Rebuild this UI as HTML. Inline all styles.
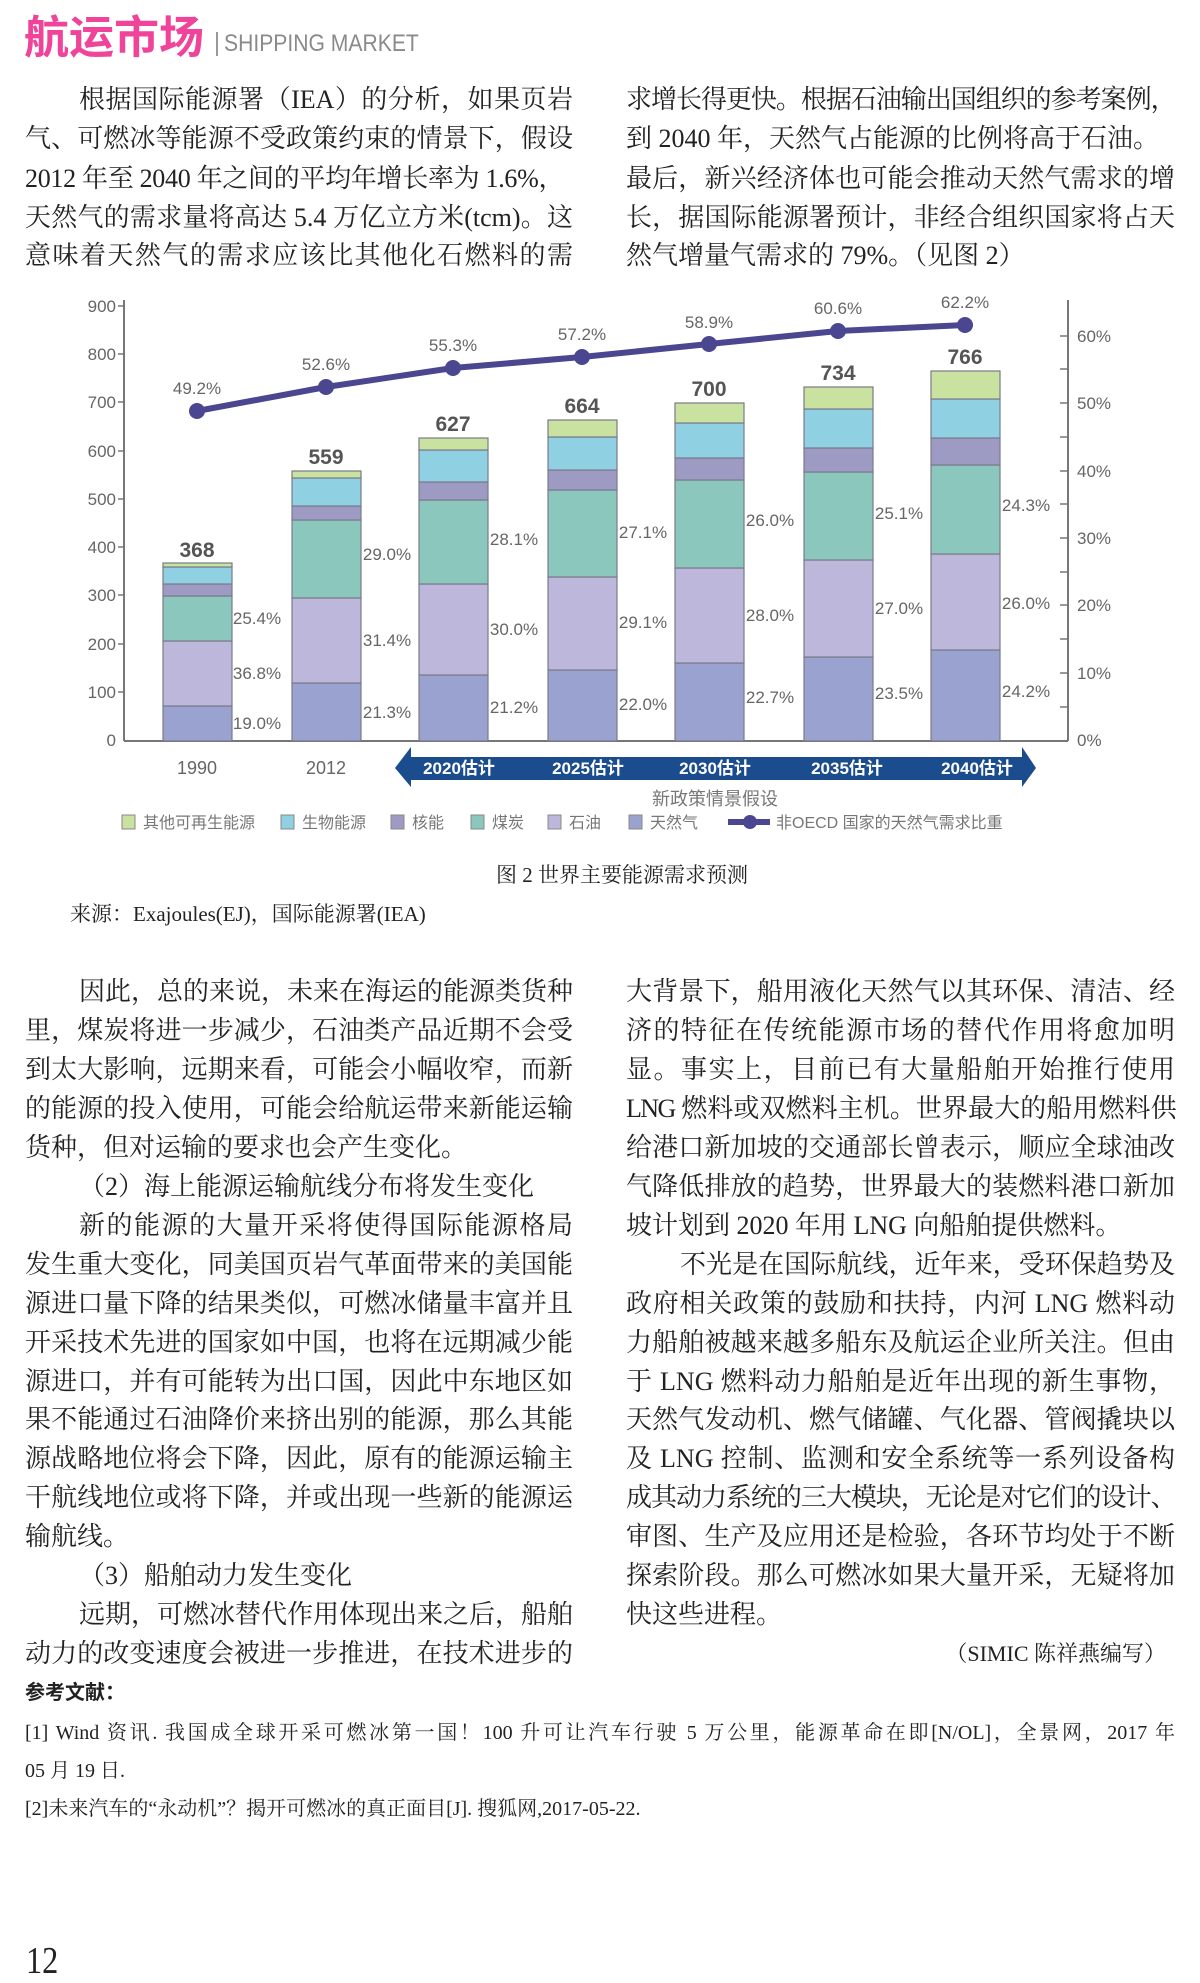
<!DOCTYPE html>
<html><head><meta charset="utf-8">
<style>
html,body{margin:0;padding:0;background:#fff;}
#p{position:relative;width:1200px;height:1983px;overflow:hidden;background:#fff;}
.t{position:absolute;font-family:"Liberation Serif","Noto Serif CJK SC",serif;font-size:26px;color:#222;line-height:40px;height:40px;white-space:nowrap;}
.j{text-align:justify;text-align-last:justify;white-space:normal;}
.L{left:25px;width:548px;}
.R{left:626px;width:549px;}
.ind{padding-left:54px;box-sizing:border-box;}
.tight{letter-spacing:-1.6px;}
svg text{font-family:"Liberation Sans","Noto Sans CJK SC",sans-serif;}
.ref{position:absolute;left:25px;font-family:"Liberation Serif","Noto Serif CJK SC",serif;font-size:20px;color:#222;white-space:nowrap;}
</style></head><body><div id="p">

<div style="position:absolute;left:24px;top:6px;font-family:'Noto Sans CJK SC',sans-serif;font-weight:bold;font-size:45px;color:#f0449a;line-height:56px;">航运市场</div>
<div style="position:absolute;left:216px;top:32px;width:2px;height:24px;background:#999;"></div>
<div style="position:absolute;left:224px;top:29px;font-family:'Liberation Sans',sans-serif;font-size:24px;color:#8a8a8a;line-height:30px;transform:scaleX(0.88);transform-origin:left;">SHIPPING MARKET</div>

<div class="t j L ind" style="top:80px">根据国际能源署（IEA）的分析，如果页岩</div>
<div class="t j L" style="top:119px">气、可燃冰等能源不受政策约束的情景下，假设</div>
<div class="t L" style="top:159px;letter-spacing:-0.3px">2012 年至 2040 年之间的平均年增长率为 1.6%，</div>
<div class="t j L" style="top:198px">天然气的需求量将高达 5.4 万亿立方米(tcm)。这</div>
<div class="t j L" style="top:236px">意味着天然气的需求应该比其他化石燃料的需</div>
<div class="t j R tight" style="top:80px">求增长得更快。根据石油输出国组织的参考案例，</div>
<div class="t R" style="top:119px">到 2040 年，天然气占能源的比例将高于石油。</div>
<div class="t j R" style="top:159px">最后，新兴经济体也可能会推动天然气需求的增</div>
<div class="t j R" style="top:198px">长，据国际能源署预计，非经合组织国家将占天</div>
<div class="t R" style="top:236px">然气增量气需求的 79%。（见图 2）</div>

<svg style="position:absolute;left:0;top:0" width="1200" height="940" viewBox="0 0 1200 940">
<g stroke="#777" stroke-width="2" fill="none">
<line x1="124" y1="300" x2="124" y2="741"/>
<line x1="124" y1="741" x2="1068" y2="741"/>
<line x1="1068" y1="300" x2="1068" y2="741"/>
</g>
<g stroke="#777" stroke-width="1.5">
<line x1="118" y1="306" x2="124" y2="306"/><line x1="118" y1="354" x2="124" y2="354"/><line x1="118" y1="402" x2="124" y2="402"/><line x1="118" y1="451" x2="124" y2="451"/><line x1="118" y1="499" x2="124" y2="499"/><line x1="118" y1="547" x2="124" y2="547"/><line x1="118" y1="595" x2="124" y2="595"/><line x1="118" y1="644" x2="124" y2="644"/><line x1="118" y1="692" x2="124" y2="692"/>
<line x1="1060" y1="336" x2="1068" y2="336"/><line x1="1060" y1="369" x2="1068" y2="369"/><line x1="1060" y1="403" x2="1068" y2="403"/><line x1="1060" y1="437" x2="1068" y2="437"/><line x1="1060" y1="471" x2="1068" y2="471"/><line x1="1060" y1="504" x2="1068" y2="504"/><line x1="1060" y1="538" x2="1068" y2="538"/><line x1="1060" y1="572" x2="1068" y2="572"/><line x1="1060" y1="605" x2="1068" y2="605"/><line x1="1060" y1="639" x2="1068" y2="639"/><line x1="1060" y1="673" x2="1068" y2="673"/><line x1="1060" y1="707" x2="1068" y2="707"/>
</g>
<g font-size="17" fill="#666" text-anchor="end">
<text x="116" y="312">900</text><text x="116" y="360">800</text><text x="116" y="408">700</text><text x="116" y="457">600</text><text x="116" y="505">500</text><text x="116" y="553">400</text><text x="116" y="601">300</text><text x="116" y="650">200</text><text x="116" y="698">100</text><text x="116" y="746">0</text>
</g>
<g font-size="17" fill="#666">
<text x="1077" y="342">60%</text><text x="1077" y="409">50%</text><text x="1077" y="477">40%</text><text x="1077" y="544">30%</text><text x="1077" y="611">20%</text><text x="1077" y="679">10%</text><text x="1077" y="746">0%</text>
</g>
<g stroke="#7a7a8a" stroke-width="1.2">
<rect x="163" y="706" width="69" height="35" fill="#9aa3d0"/><rect x="163" y="641" width="69" height="65" fill="#bdb7dc"/><rect x="163" y="596" width="69" height="45" fill="#8cc7bd"/><rect x="163" y="584" width="69" height="12" fill="#9d9ac3"/><rect x="163" y="567" width="69" height="17" fill="#8fd0e2"/><rect x="163" y="563" width="69" height="4" fill="#c9e2a0"/>
<rect x="292" y="683" width="69" height="58" fill="#9aa3d0"/><rect x="292" y="598" width="69" height="85" fill="#bdb7dc"/><rect x="292" y="520" width="69" height="78" fill="#8cc7bd"/><rect x="292" y="506" width="69" height="14" fill="#9d9ac3"/><rect x="292" y="478" width="69" height="28" fill="#8fd0e2"/><rect x="292" y="471" width="69" height="7" fill="#c9e2a0"/>
<rect x="419" y="675" width="69" height="66" fill="#9aa3d0"/><rect x="419" y="584" width="69" height="91" fill="#bdb7dc"/><rect x="419" y="500" width="69" height="84" fill="#8cc7bd"/><rect x="419" y="482" width="69" height="18" fill="#9d9ac3"/><rect x="419" y="450" width="69" height="32" fill="#8fd0e2"/><rect x="419" y="438" width="69" height="12" fill="#c9e2a0"/>
<rect x="548" y="670" width="69" height="71" fill="#9aa3d0"/><rect x="548" y="577" width="69" height="93" fill="#bdb7dc"/><rect x="548" y="490" width="69" height="87" fill="#8cc7bd"/><rect x="548" y="470" width="69" height="20" fill="#9d9ac3"/><rect x="548" y="437" width="69" height="33" fill="#8fd0e2"/><rect x="548" y="420" width="69" height="17" fill="#c9e2a0"/>
<rect x="675" y="663" width="69" height="78" fill="#9aa3d0"/><rect x="675" y="568" width="69" height="95" fill="#bdb7dc"/><rect x="675" y="480" width="69" height="88" fill="#8cc7bd"/><rect x="675" y="458" width="69" height="22" fill="#9d9ac3"/><rect x="675" y="423" width="69" height="35" fill="#8fd0e2"/><rect x="675" y="403" width="69" height="20" fill="#c9e2a0"/>
<rect x="804" y="657" width="69" height="84" fill="#9aa3d0"/><rect x="804" y="560" width="69" height="97" fill="#bdb7dc"/><rect x="804" y="472" width="69" height="88" fill="#8cc7bd"/><rect x="804" y="448" width="69" height="24" fill="#9d9ac3"/><rect x="804" y="409" width="69" height="39" fill="#8fd0e2"/><rect x="804" y="387" width="69" height="22" fill="#c9e2a0"/>
<rect x="931" y="650" width="69" height="91" fill="#9aa3d0"/><rect x="931" y="554" width="69" height="96" fill="#bdb7dc"/><rect x="931" y="465" width="69" height="89" fill="#8cc7bd"/><rect x="931" y="438" width="69" height="27" fill="#9d9ac3"/><rect x="931" y="399" width="69" height="39" fill="#8fd0e2"/><rect x="931" y="371" width="69" height="28" fill="#c9e2a0"/>
</g>
<g font-size="21" font-weight="bold" fill="#555" text-anchor="middle">
<text x="197" y="557">368</text><text x="326" y="464">559</text><text x="453" y="431">627</text><text x="582" y="413">664</text><text x="709" y="396">700</text><text x="838" y="380">734</text><text x="965" y="364">766</text>
</g>
<g font-size="17" fill="#666" text-anchor="middle">
<text x="257" y="729">19.0%</text><text x="257" y="679">36.8%</text><text x="257" y="624">25.4%</text>
<text x="387" y="718">21.3%</text><text x="387" y="646">31.4%</text><text x="387" y="560">29.0%</text>
<text x="514" y="713">21.2%</text><text x="514" y="635">30.0%</text><text x="514" y="545">28.1%</text>
<text x="643" y="710">22.0%</text><text x="643" y="628">29.1%</text><text x="643" y="538">27.1%</text>
<text x="770" y="703">22.7%</text><text x="770" y="621">28.0%</text><text x="770" y="526">26.0%</text>
<text x="899" y="699">23.5%</text><text x="899" y="614">27.0%</text><text x="899" y="519">25.1%</text>
<text x="1026" y="697">24.2%</text><text x="1026" y="609">26.0%</text><text x="1026" y="511">24.3%</text>
</g>
<polyline points="197,411 326,387 453,368 582,357 709,344 838,331 965,325" fill="none" stroke="#4b4690" stroke-width="6"/>
<g fill="#4b4690">
<circle cx="197" cy="411" r="8"/><circle cx="326" cy="387" r="8"/><circle cx="453" cy="368" r="8"/><circle cx="582" cy="357" r="8"/><circle cx="709" cy="344" r="8"/><circle cx="838" cy="331" r="8"/><circle cx="965" cy="325" r="8"/>
</g>
<g font-size="17" fill="#666" text-anchor="middle">
<text x="197" y="394">49.2%</text><text x="326" y="370">52.6%</text><text x="453" y="351">55.3%</text><text x="582" y="340">57.2%</text><text x="709" y="328">58.9%</text><text x="838" y="314">60.6%</text><text x="965" y="308">62.2%</text>
</g>
<g font-size="18" fill="#666" text-anchor="middle">
<text x="197" y="774">1990</text><text x="326" y="774">2012</text>
</g>
<polygon points="395,768 411,747 411,757 1022,757 1022,747 1036,768 1022,787 1022,780 411,780 411,787" fill="#1a4c8e"/>
<g font-size="17" font-weight="bold" fill="#fff" text-anchor="middle">
<text x="459" y="774">2020估计</text><text x="588" y="774">2025估计</text><text x="715" y="774">2030估计</text><text x="847" y="774">2035估计</text><text x="977" y="774">2040估计</text>
</g>
<text x="715" y="805" font-size="18" fill="#777" text-anchor="middle">新政策情景假设</text>
<g stroke="#888" stroke-width="1">
<rect x="122" y="815" width="13" height="14" fill="#c9e2a0"/><rect x="281" y="815" width="13" height="14" fill="#8fd0e2"/><rect x="391" y="815" width="13" height="14" fill="#9d9ac3"/><rect x="471" y="815" width="13" height="14" fill="#8cc7bd"/><rect x="548" y="815" width="13" height="14" fill="#bdb7dc"/><rect x="629" y="815" width="13" height="14" fill="#9aa3d0"/>
</g>
<line x1="728" y1="822" x2="770" y2="822" stroke="#4b4690" stroke-width="6"/><circle cx="750" cy="822" r="7" fill="#4b4690"/>
<g font-size="16" fill="#777">
<text x="143" y="828">其他可再生能源</text><text x="302" y="828">生物能源</text><text x="412" y="828">核能</text><text x="492" y="828">煤炭</text><text x="569" y="828">石油</text><text x="650" y="828">天然气</text><text x="776" y="828">非OECD 国家的天然气需求比重</text>
</g>
</svg>

<div class="t" style="left:0;width:1244px;text-align:center;top:855px;font-size:21px;">图 2 世界主要能源需求预测</div>
<div class="t" style="left:70px;top:894px;font-size:21px;">来源：Exajoules(EJ)，国际能源署(IEA)</div>

<div class="t j L ind" style="top:972px">因此，总的来说，未来在海运的能源类货种</div>
<div class="t j L" style="top:1011px">里，煤炭将进一步减少，石油类产品近期不会受</div>
<div class="t j L" style="top:1050px">到太大影响，远期来看，可能会小幅收窄，而新</div>
<div class="t j L" style="top:1089px">的能源的投入使用，可能会给航运带来新能运输</div>
<div class="t L" style="top:1128px">货种，但对运输的要求也会产生变化。</div>
<div class="t L ind" style="top:1167px">（2）海上能源运输航线分布将发生变化</div>
<div class="t j L ind" style="top:1206px">新的能源的大量开采将使得国际能源格局</div>
<div class="t j L" style="top:1245px">发生重大变化，同美国页岩气革面带来的美国能</div>
<div class="t j L" style="top:1284px">源进口量下降的结果类似，可燃冰储量丰富并且</div>
<div class="t j L" style="top:1323px">开采技术先进的国家如中国，也将在远期减少能</div>
<div class="t j L" style="top:1362px">源进口，并有可能转为出口国，因此中东地区如</div>
<div class="t j L" style="top:1400px">果不能通过石油降价来挤出别的能源，那么其能</div>
<div class="t j L" style="top:1439px">源战略地位将会下降，因此，原有的能源运输主</div>
<div class="t j L" style="top:1478px">干航线地位或将下降，并或出现一些新的能源运</div>
<div class="t L" style="top:1517px">输航线。</div>
<div class="t L ind" style="top:1556px">（3）船舶动力发生变化</div>
<div class="t j L ind" style="top:1595px">远期，可燃冰替代作用体现出来之后，船舶</div>
<div class="t j L" style="top:1634px">动力的改变速度会被进一步推进，在技术进步的</div>

<div class="t j R" style="top:972px">大背景下，船用液化天然气以其环保、清洁、经</div>
<div class="t j R" style="top:1011px">济的特征在传统能源市场的替代作用将愈加明</div>
<div class="t j R" style="top:1050px">显。事实上，目前已有大量船舶开始推行使用</div>
<div class="t j R tight" style="top:1089px">LNG 燃料或双燃料主机。世界最大的船用燃料供</div>
<div class="t j R" style="top:1128px">给港口新加坡的交通部长曾表示，顺应全球油改</div>
<div class="t j R" style="top:1167px">气降低排放的趋势，世界最大的装燃料港口新加</div>
<div class="t R" style="top:1206px">坡计划到 2020 年用 LNG 向船舶提供燃料。</div>
<div class="t j R ind" style="top:1245px">不光是在国际航线，近年来，受环保趋势及</div>
<div class="t j R" style="top:1284px">政府相关政策的鼓励和扶持，内河 LNG 燃料动</div>
<div class="t j R" style="top:1323px">力船舶被越来越多船东及航运企业所关注。但由</div>
<div class="t j R" style="top:1362px">于 LNG 燃料动力船舶是近年出现的新生事物，</div>
<div class="t j R" style="top:1400px">天然气发动机、燃气储罐、气化器、管阀撬块以</div>
<div class="t j R" style="top:1439px">及 LNG 控制、监测和安全系统等一系列设备构</div>
<div class="t j R tight" style="top:1478px">成其动力系统的三大模块，无论是对它们的设计、</div>
<div class="t j R" style="top:1517px">审图、生产及应用还是检验，各环节均处于不断</div>
<div class="t j R" style="top:1556px">探索阶段。那么可燃冰如果大量开采，无疑将加</div>
<div class="t R" style="top:1595px">快这些进程。</div>
<div class="t" style="left:626px;width:540px;text-align:right;top:1634px;font-size:22px;">（SIMIC 陈祥燕编写）</div>

<div class="ref" style="top:1676px;font-weight:bold;font-family:'Noto Sans CJK SC',sans-serif;">参考文献：</div>
<div class="ref" style="top:1716px;width:1150px;text-align:justify;text-align-last:justify;white-space:normal;height:28px;overflow:hidden;">[1] Wind 资讯. 我国成全球开采可燃冰第一国！100 升可让汽车行驶 5 万公里，能源革命在即[N/OL]，全景网，2017 年</div>
<div class="ref" style="top:1754px;">05 月 19 日.</div>
<div class="ref" style="top:1792px;">[2]未来汽车的“永动机”？揭开可燃冰的真正面目[J]. 搜狐网,2017-05-22.</div>

<div style="position:absolute;left:26px;top:1940px;font-family:'Liberation Serif',serif;font-size:38px;color:#222;line-height:42px;transform:scaleX(0.85);transform-origin:left;">12</div>
</div></body></html>
